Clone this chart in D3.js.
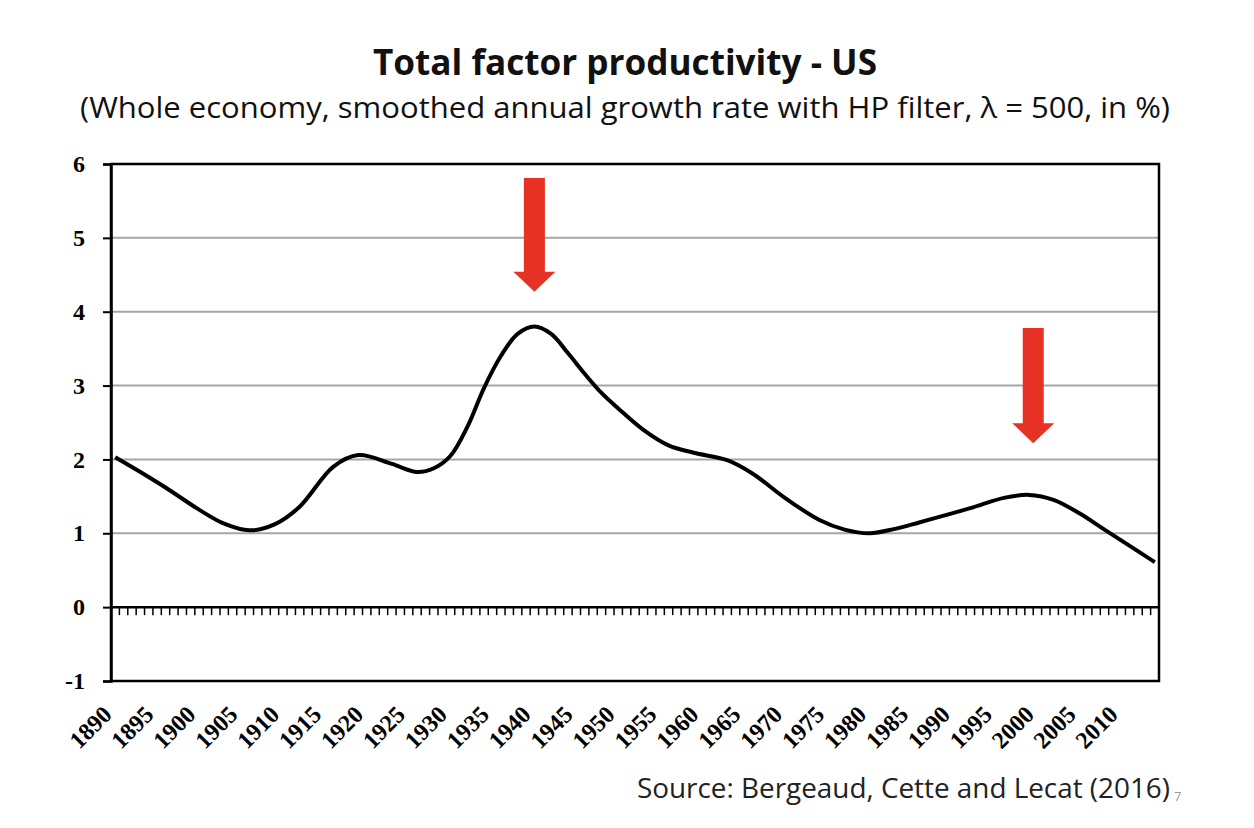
<!DOCTYPE html>
<html lang="en">
<head>
    <meta charset="UTF-8">
    <title>Total factor productivity - US</title>
    <script src="https://cdn.jsdelivr.net/npm/d3@7"></script>
    <style>
        body { margin: 0; background: #fff; }
    </style>
</head>
<body>
    <svg width="1254" height="828" id="mainsvg" style="display: block;"></svg>
    <script>
        // data
        const years = [1890, 1893, 1896, 1900, 1903, 1906, 1909, 1912, 1916, 1919, 1923, 1926, 1928, 1930,
            1932, 1934, 1936, 1938, 1940, 1942, 1944, 1946, 1948, 1950, 1953, 1956, 1959, 1963, 1966,
            1970, 1974, 1977, 1980, 1983, 1986, 1992, 1996, 1999, 2002, 2005, 2008, 2014];
        const tfp = [2.03, 1.83, 1.62, 1.32, 1.13, 1.04, 1.12, 1.36, 1.90, 2.06, 1.94, 1.83, 1.88, 2.05,
            2.44, 2.97, 3.40, 3.70, 3.80, 3.70, 3.44, 3.16, 2.90, 2.69, 2.40, 2.19, 2.09, 1.99, 1.81,
            1.47, 1.18, 1.05, 1.00, 1.06, 1.15, 1.34, 1.48, 1.52, 1.45, 1.27, 1.05, 0.61];
        const yTicks = [-1, 0, 1, 2, 3, 4, 5, 6];
        const firstYear = 1890, lastYear = 2014;
        const labelYears = d3.range(1890, 2011, 5);
        // arrows: year, top value, tip value
        const arrowYears = [1940, 1999.5];
        const arrowFrom = [5.81, 3.78];
        const arrowTo = [4.27, 2.22];

        const svg = d3.select("#mainsvg");
        const width = +svg.attr('width');
        const height = +svg.attr('height');
        const margin = {top: 164, right: 95, bottom: 147, left: 111};

        const categories = d3.range(firstYear, lastYear + 1);
        const x = d3.scaleBand().domain(categories).range([margin.left, width - margin.right]);
        const bw = x.bandwidth();
        const xc = yr => x(Math.floor(yr)) + bw / 2 + (yr - Math.floor(yr)) * bw;
        const y = d3.scaleLinear().domain([-1, 6]).range([height - margin.bottom, margin.top]);

        const serif = "'Liberation Serif', 'Times New Roman', serif";
        const sans = "'Open Sans', 'Noto Sans', sans-serif";

        // title
        svg.append("text")
            .attr("x", 625).attr("y", 75)
            .attr("text-anchor", "middle")
            .attr("font-family", sans).attr("font-weight", "bold").attr("font-size", 35)
            .attr("fill", "#111")
            .attr("textLength", 504).attr("lengthAdjust", "spacingAndGlyphs")
            .text("Total factor productivity - US");
        svg.append("text")
            .attr("x", 625).attr("y", 118)
            .attr("text-anchor", "middle")
            .attr("font-family", sans).attr("font-size", 30)
            .attr("fill", "#111")
            .attr("textLength", 1090).attr("lengthAdjust", "spacingAndGlyphs")
            .text("(Whole economy, smoothed annual growth rate with HP filter, \u03bb = 500, in %)");

        // gridlines
        svg.append("g").selectAll("line").data(yTicks.filter(d => d > 0 && d < 6)).join("line")
            .attr("x1", margin.left).attr("x2", width - margin.right)
            .attr("y1", d => y(d)).attr("y2", d => y(d))
            .attr("stroke", "#a6a6a6").attr("stroke-width", 2);

        // frame
        svg.append("rect")
            .attr("x", margin.left).attr("y", y(6))
            .attr("width", width - margin.right - margin.left)
            .attr("height", y(-1) - y(6))
            .attr("fill", "none").attr("stroke", "#000").attr("stroke-width", 2.5);

        // zero line with yearly ticks
        svg.append("line")
            .attr("x1", margin.left).attr("x2", width - margin.right)
            .attr("y1", y(0)).attr("y2", y(0))
            .attr("stroke", "#000").attr("stroke-width", 2.5);
        svg.append("g").selectAll("line").data(categories.slice(1)).join("line")
            .attr("x1", d => x(d)).attr("x2", d => x(d))
            .attr("y1", y(0)).attr("y2", y(0) + 8)
            .attr("stroke", "#000").attr("stroke-width", 1.5);

        // y axis
        const yAxis = svg.append("g")
            .attr("transform", `translate(${margin.left},0)`)
            .call(d3.axisLeft(y).tickValues(yTicks).tickFormat(d => String(d)).tickSize(8).tickPadding(18));
        yAxis.select(".domain").attr("stroke-width", 2.5);
        yAxis.selectAll(".tick line").attr("stroke-width", 2);
        yAxis.selectAll("text")
            .attr("font-family", serif).attr("font-weight", "bold").attr("font-size", 24)
            .attr("fill", "#000");

        // x labels
        svg.append("g").selectAll("text").data(labelYears).join("text")
            .attr("transform", d => `translate(${x(d) + bw / 2 - 8},${y(-1) + 29}) rotate(-45)`)
            .attr("text-anchor", "end")
            .attr("dy", "0.35em")
            .attr("font-family", serif).attr("font-weight", "bold").attr("font-size", 24)
            .attr("fill", "#000")
            .text(d => d);

        // line
        const line = d3.line()
            .x((d, i) => xc(years[i]))
            .y(d => y(d))
            .curve(d3.curveCatmullRom.alpha(0.5));
        svg.append("path")
            .datum(tfp)
            .attr("fill", "none")
            .attr("stroke", "#000")
            .attr("stroke-width", 4)
            .attr("stroke-linejoin", "round")
            .attr("d", line);

        // red arrows
        const shaftW = 21, headW = 42, headH = 20;
        svg.append("g").selectAll("path").data(arrowYears).join("path")
            .attr("d", (d, i) => {
                const cx = xc(d), top = y(arrowFrom[i]), tip = y(arrowTo[i]);
                const hb = tip - headH;
                return `M${cx - shaftW / 2},${top} L${cx + shaftW / 2},${top} L${cx + shaftW / 2},${hb}
                    L${cx + headW / 2},${hb} L${cx},${tip} L${cx - headW / 2},${hb} L${cx - shaftW / 2},${hb} Z`;
            })
            .attr("fill", "#e53224");

        // source
        svg.append("text")
            .attr("x", 1170).attr("y", 798)
            .attr("text-anchor", "end")
            .attr("font-family", sans).attr("font-size", 27)
            .attr("fill", "#222")
            .attr("textLength", 533).attr("lengthAdjust", "spacingAndGlyphs")
            .text("Source: Bergeaud, Cette and Lecat (2016)");
        svg.append("text")
            .attr("x", 1174).attr("y", 801)
            .attr("font-family", sans).attr("font-size", 13)
            .attr("fill", "#999")
            .text("7");
    </script>
</body>
</html>
